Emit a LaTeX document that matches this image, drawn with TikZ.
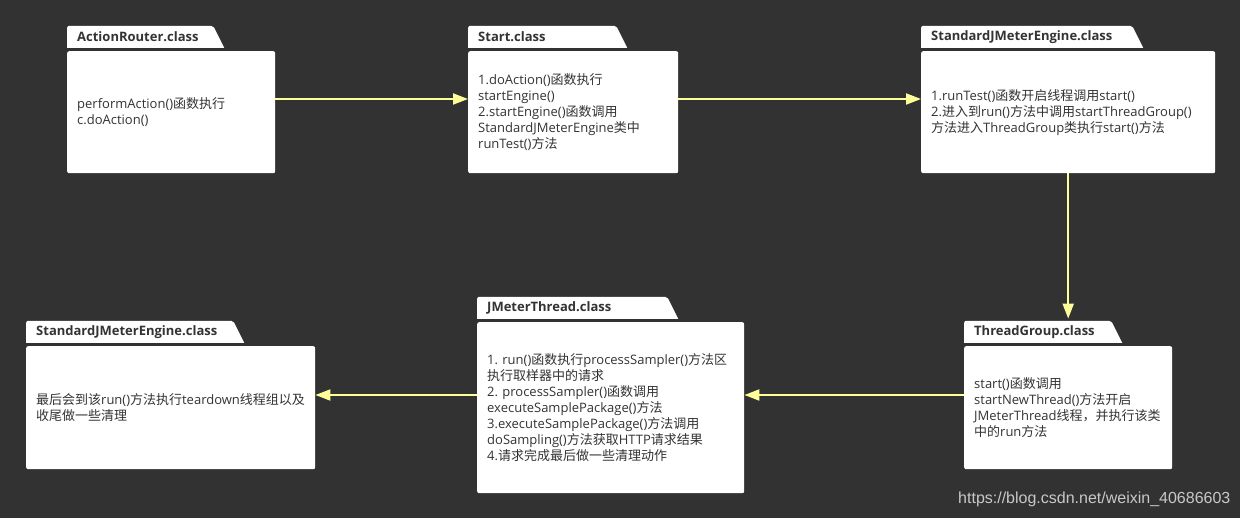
\documentclass[tikz,border=0pt]{standalone}
\usepackage{fontspec}
\setmainfont{Open Sans}
\newfontfamily\latinfont{Open Sans}
\newfontfamily\cjkfont{Noto Sans CJK SC}
\newfontfamily\urlfont{Liberation Sans}
\usetikzlibrary{arrows.meta,positioning}
\frenchspacing

% Han characters are set in the CJK font, everything else in Open Sans
\XeTeXinterchartokenstate=1
\newXeTeXintercharclass\hanclass
\newcount\hanchar
\hanchar="4E00
\loop
  \XeTeXcharclass\hanchar=\hanclass
  \ifnum\hanchar<"9FFF \advance\hanchar by 1
\repeat
\XeTeXcharclass"FF0C=\hanclass
\XeTeXinterchartoks 0 \hanclass={\cjkfont}
\XeTeXinterchartoks 4095 \hanclass={\cjkfont}
\XeTeXinterchartoks \hanclass 0={\latinfont}
\XeTeXinterchartoks \hanclass 4095={\latinfont}

\definecolor{bgdark}{RGB}{50,50,50}
\definecolor{linkyellow}{RGB}{255,255,153}
\definecolor{textgray}{RGB}{51,51,51}
\definecolor{markgray}{RGB}{200,200,200}

\begin{document}
\begin{tikzpicture}[x=1pt,y=-1pt,>={Triangle[length=15pt,width=11pt]},
    body/.style 2 args={fill=white,rounded corners=2pt,anchor=north west,align=left,inner xsep=10pt,inner ysep=0pt,
      text width=#1,minimum height=#2,text=textgray,font=\fontsize{13}{16}\selectfont},
    tab/.style={anchor=south west,fill=bgdark,minimum height=22pt,inner xsep=10pt,inner ysep=0pt,
      text width=#1,align=left,text=textgray,font=\fontsize{13}{16}\selectfont\bfseries,
      path picture={\fill[white] (path picture bounding box.south west) [rounded corners=2pt]
        -- (path picture bounding box.north west) -- ([xshift=-11pt]path picture bounding box.north east)
        [sharp corners] -- (path picture bounding box.south east) -- cycle;}},
    link/.style={->,color=linkyellow,line width=2pt}]
    \fill[bgdark] (0,0) rectangle (1240,518);

    % top row
    \node[body={188pt}{122pt}] (1) at (67,51) {performAction()函数执行\\c.doAction()};
    \node[body={190pt}{122pt}] (2) at (468,51) {1.doAction()函数执行\\startEngine()\\2.startEngine()函数调用\\StandardJMeterEngine类中\\runTest()方法};
    \node[body={274pt}{122pt}] (3) at (921,51) {1.runTest()函数开启线程调用start()\\2.进入到run()方法中调用startThreadGroup()\\方法进入ThreadGroup类执行start()方法};
    % bottom row
    \node[body={188pt}{123pt}] (4) at (964,346) {start()函数调用\\startNewThread()方法开启\\JMeterThread线程，并执行该类\\中的run方法};
    \node[body={247pt}{171pt}] (5) at (477,322) {1. run()函数执行processSampler()方法区\\执行取样器中的请求\\2. processSampler()函数调用\\executeSamplePackage()方法\\3.executeSamplePackage()方法调用\\doSampling()方法获取HTTP请求结果\\4.请求完成最后做一些清理动作};
    \node[body={269pt}{123pt}] (6) at (26,346) {最后会到该run()方法执行teardown线程组以及\\收尾做一些清理};

    \node[above=3pt of 1.north west,tab=137pt] (t1) {ActionRouter.class};
    \node[above=3pt of 2.north west,tab=139pt] (t2) {Start.class};
    \node[above=3pt of 3.north west,tab=202pt] (t3) {StandardJMeterEngine.class};
    \node[above=3pt of 4.north west,tab=138pt] (t4) {ThreadGroup.class};
    \node[above=3pt of 5.north west,tab=181pt] (t5) {JMeterThread.class};
    \node[above=3pt of 6.north west,tab=198pt] (t6) {StandardJMeterEngine.class};

    \draw[link] ([yshift=-48pt]1.north east) -- ([yshift=-48pt]1.north east -| 2.west);
    \draw[link] ([yshift=-48pt]2.north east) -- ([yshift=-48pt]2.north east -| 3.west);
    \draw[link] (3.south) -- ([yshift=2pt]3.south |- t4.north);
    \draw[link] ([yshift=-49pt]4.north west) -- ([yshift=-49pt]4.north west -| 5.east);
    \draw[link] ([yshift=-49pt]6.north east -| 5.west) -- ([yshift=-49pt]6.north east);

    \node[anchor=base west,inner sep=0pt,text=markgray,font=\urlfont\fontsize{16}{16}\selectfont] (url) at (958,503.5) {https://blog.csdn.net/weixin\_40686603};
\end{tikzpicture}
\end{document}
